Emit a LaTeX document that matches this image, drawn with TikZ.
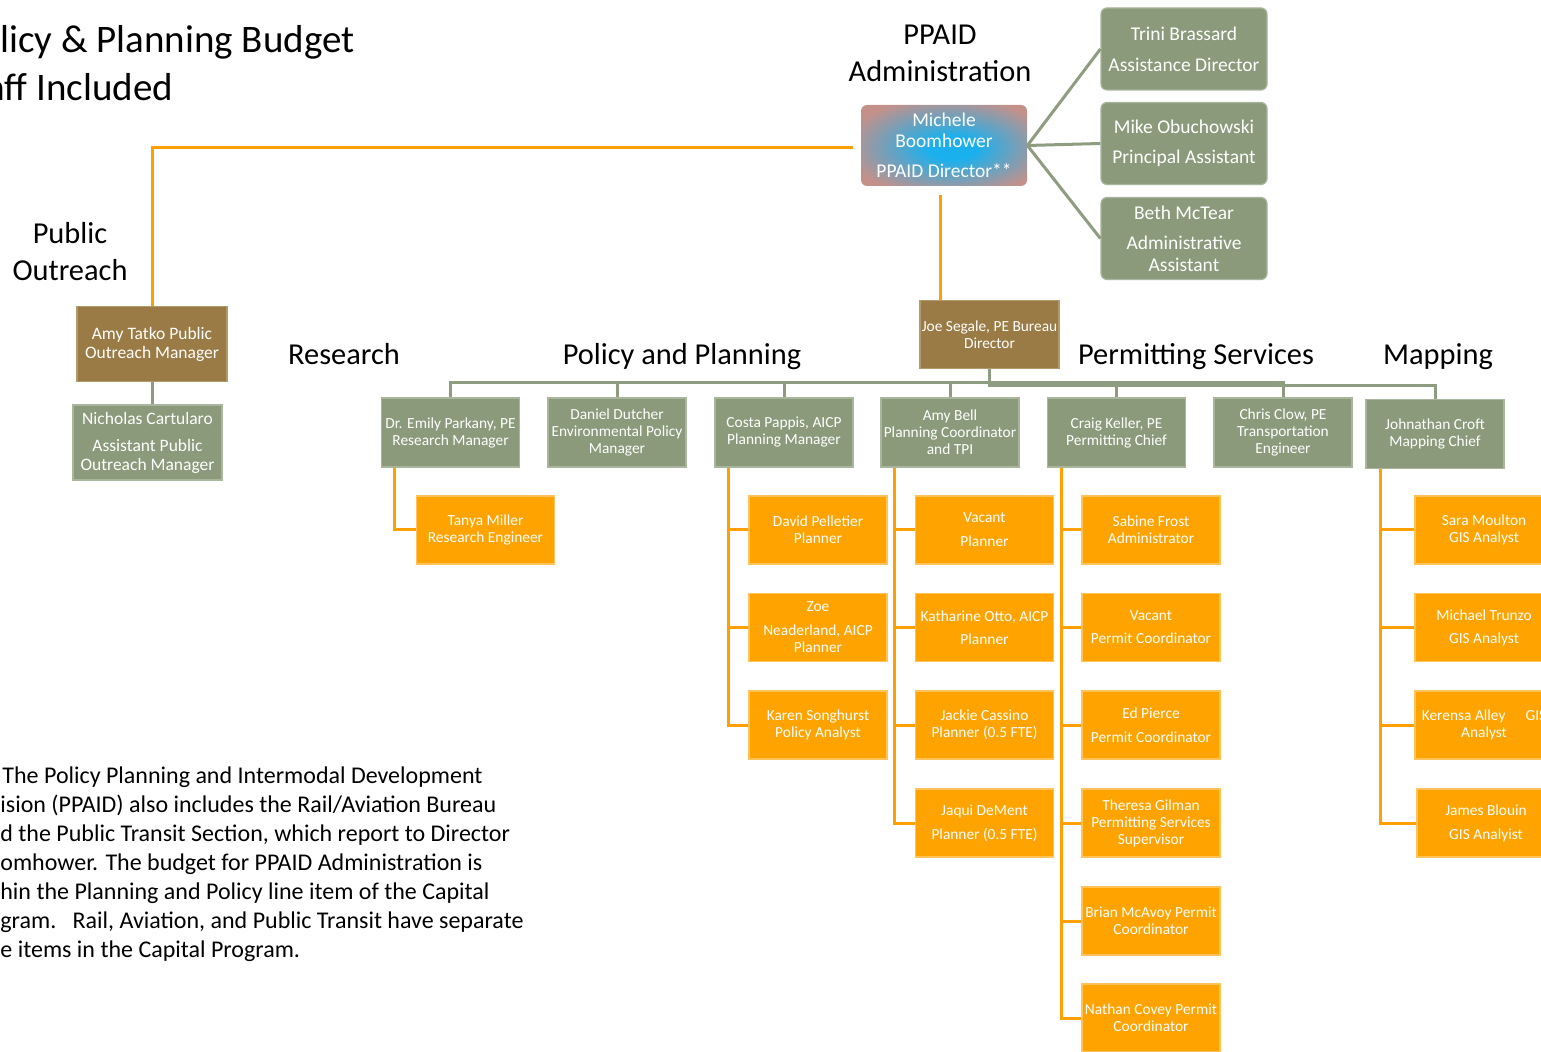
\documentclass[tikz,border=0pt]{standalone}
\usepackage{fontspec}
\setmainfont{Carlito}
\definecolor{gfill}{HTML}{8A9A7B}
\definecolor{gdraw}{HTML}{A9B59C}
\definecolor{bfill}{HTML}{9A7B45}
\definecolor{bdraw}{HTML}{B39A6A}
\definecolor{ofill}{HTML}{FFA300}
\definecolor{odraw}{HTML}{FFC35A}
\definecolor{oline}{HTML}{FFA000}
\definecolor{gline}{HTML}{8E9D80}
\definecolor{mblue}{HTML}{1AB0EE}
\definecolor{mpink}{HTML}{C4918A}
\colorlet{mmid}{mpink!50!mblue}
\pgfdeclareradialshading{michsh}{\pgfpoint{3bp}{-2bp}}{color(0bp)=(mblue); color(7bp)=(mblue); color(19bp)=(mmid); color(31bp)=(mpink); color(50bp)=(mpink)}
\begin{document}
\begin{tikzpicture}[x=0.5pt,y=-0.5pt,
  txt/.style={text=white, align=center, inner sep=0pt},
  small/.style={font=\fontsize{7.7}{8.5}\selectfont},
  gbox/.style={txt, small, rectangle, fill=gfill, draw=gdraw, line width=0.6pt, minimum width=69pt, minimum height=34.5pt},
  obox/.style={txt, small, rectangle, fill=ofill, draw=odraw, line width=0.6pt, minimum width=69pt, minimum height=34pt},
  rbox/.style={txt, rectangle, rounded corners=3pt, fill=gfill, draw=gdraw, line width=0.6pt, minimum width=83pt, minimum height=41pt, font=\fontsize{9.75}{10.5}\selectfont},
  bbox/.style={txt, rectangle, fill=bfill, draw=bdraw, line width=0.6pt},
  ol/.style={draw=oline, line width=1.5pt},
  gl/.style={draw=gline, line width=1.5pt},
  sect/.style={inner sep=0pt, anchor=base, font=\fontsize{15.2}{18}\selectfont},
  ttl/.style={inner sep=0pt, anchor=base west, font=\fontsize{19.5}{24}\selectfont}
]
\useasboundingbox (0,0) rectangle (1541,1052);
\fill[white] (0,0) rectangle (1541,1052);
\clip (0,0) rectangle (1541,1052);

% titles and section labels
\node[ttl] (t1) at (0,52.5) {licy \& Planning Budget};
\node[ttl] (t2) at (-14,100.5) {aff Included};
\node[sect] (s1) at (940,45) {PPAID};
\node[sect] (s2) at (940,82) {Administration};
\node[sect] (s3) at (70,244) {Public};
\node[sect] (s4) at (70,281) {Outreach};
\node[sect] (s5) at (344,365) {Research};
\node[sect] (s6) at (682,365) {Policy and Planning};
\node[sect] (s7) at (1196,365) {Permitting Services};
\node[sect] (s8) at (1438,365) {Mapping};

% paragraph
\node[inner sep=0pt, anchor=north west, align=left, font=\fontsize{12}{14.5}\selectfont] (para) at (0,766)
 {\hspace{1pt}The Policy Planning and Intermodal Development\\
  ision (PPAID) also includes the Rail/Aviation Bureau\\
  d the Public Transit Section, which report to Director\\
  omhower. The budget for PPAID Administration is\\
  hin the Planning and Policy line item of the Capital\\
  gram.\ \ \ Rail, Aviation, and Public Transit have separate\\
  e items in the Capital Program.};

% administration
\node[txt, rectangle, rounded corners=3pt, shading=michsh,
      minimum width=83pt, minimum height=40.5pt, font=\fontsize{9.75}{10.5}\selectfont] (mich) at (944,145.5)
  {Michele\\Boomhower\\[4.5pt]PPAID Director**};
\node[rbox] (trini) at (1184,49) {Trini Brassard\\[5pt]Assistance Director};
\node[rbox] (mike) at (1184,143.5) {Mike Obuchowski\\[4.5pt]Principal Assistant};
\node[rbox] (beth) at (1184,238.5) {Beth McTear\\[4.5pt]Administrative\\[0.5pt]Assistant};

% public outreach
\node[bbox, minimum width=75pt, minimum height=37.5pt, font=\fontsize{8.75}{9.5}\selectfont] (amy) at (152,344)
  {Amy Tatko Public\\Outreach Manager};
\node[txt, rectangle, fill=gfill, draw=gdraw, line width=0.6pt, minimum width=74.5pt, minimum height=37.5pt,
      font=\fontsize{8.75}{9.5}\selectfont] (nich) at (147.5,442.5)
  {Nicholas Cartularo\\[4pt]Assistant Public\\Outreach Manager};

% bureau director
\node[bbox, small, minimum width=69.5pt, minimum height=34pt] (joe) at (989.5,334.5) {Joe Segale, PE Bureau\\Director};

% managers
\node[gbox] (emily) at (450.5,432.5) {Dr. Emily Parkany, PE\\Research Manager};
\node[gbox] (daniel) at (617,432.5) {Daniel Dutcher\\Environmental Policy\\Manager};
\node[gbox] (costa) at (784,432.5) {Costa Pappis, AICP\\Planning Manager};
\node[gbox] (amybell) at (950,432.5) {Amy Bell\\Planning Coordinator\\and TPI};
\node[gbox] (craig) at (1116.5,432.5) {Craig Keller, PE\\Permitting Chief};
\node[gbox] (chris) at (1283,432.5) {Chris Clow, PE\\Transportation\\Engineer};
\node[gbox] (john) at (1435,434) {Johnathan Croft\\Mapping Chief};

% staff
\node[obox] (tanya) at (485.5,530) {Tanya Miller\\Research Engineer};

\node[obox] (david) at (818,530) {David Pelletier\\Planner};
\node[obox] (zoe) at (818,627.5) {Zoe\\[3.5pt]Neaderland, AICP\\Planner};
\node[obox] (karen) at (818,725) {Karen Songhurst\\Policy Analyst};

\node[obox] (vac1) at (984.5,530) {Vacant\\[3.5pt]Planner};
\node[obox] (kath) at (984.5,627.5) {Katharine Otto, AICP\\[3pt]Planner};
\node[obox] (jackie) at (984.5,725) {Jackie Cassino\\Planner (0.5 FTE)};
\node[obox] (jaqui) at (984.5,823) {Jaqui DeMent\\[3.5pt]Planner (0.5 FTE)};

\node[obox] (sabine) at (1151,530) {Sabine Frost\\Administrator};
\node[obox] (vac2) at (1151,627.5) {Vacant\\[3pt]Permit Coordinator};
\node[obox] (ed) at (1151,725) {Ed Pierce\\[3.5pt]Permit Coordinator};
\node[obox] (theresa) at (1151,823) {Theresa Gilman\\Permitting Services\\Supervisor};
\node[obox] (brian) at (1151,921) {Brian McAvoy Permit\\Coordinator};
\node[obox] (nathan) at (1151,1018) {Nathan Covey Permit\\Coordinator};

\node[obox] (sara) at (1484,530) {Sara Moulton\\GIS Analyst};
\node[obox] (michael) at (1484,627.5) {Michael Trunzo\\[3pt]GIS Analyst};
\node[obox] (kerensa) at (1484,725) {Kerensa Alley\hspace{10pt}GIS\\Analyst};
\node[obox] (james) at (1486,823) {James Blouin\\[3.5pt]GIS Analyist};

% connectors: administration
\coordinate (mo) at (853,148);
\coordinate (md) at (940,195);
\draw[ol] (mo) -| (amy.north);
\draw[ol] (md) -- (md |- joe.north);
\draw[gl] (mich.east) -- (trini.west);
\draw[gl] (mich.east) -- (mike.west);
\draw[gl] (mich.east) -- (beth.west);
\draw[gl] (amy.south) -- (amy.south |- nich.north);

% bus
\coordinate (bus) at (0,383);
\coordinate (bus2) at (0,386);
\draw[gl] (emily.north) -- (emily.north |- bus) -- (chris.north |- bus) -- (chris.north);
\foreach \m in {daniel,costa,amybell,craig} \draw[gl] (\m.north) -- (\m.north |- bus);
\draw[gl] (joe.south) -- (joe.south |- bus2) -- (john.north |- bus2) -- (john.north);

% staff connectors
\draw[ol] ([xshift=7pt]emily.south west) |- (tanya.west);
\foreach \c in {david,zoe,karen} \draw[ol] ([xshift=7pt]costa.south west) |- (\c.west);
\foreach \c in {vac1,kath,jackie,jaqui} \draw[ol] ([xshift=7pt]amybell.south west) |- (\c.west);
\foreach \c in {sabine,vac2,ed,theresa,brian,nathan} \draw[ol] ([xshift=7.5pt]craig.south west) |- (\c.west);
\foreach \c in {sara,michael,kerensa,james} \draw[ol] ([xshift=7.5pt]john.south west) |- (\c.west);
\end{tikzpicture}
\end{document}
